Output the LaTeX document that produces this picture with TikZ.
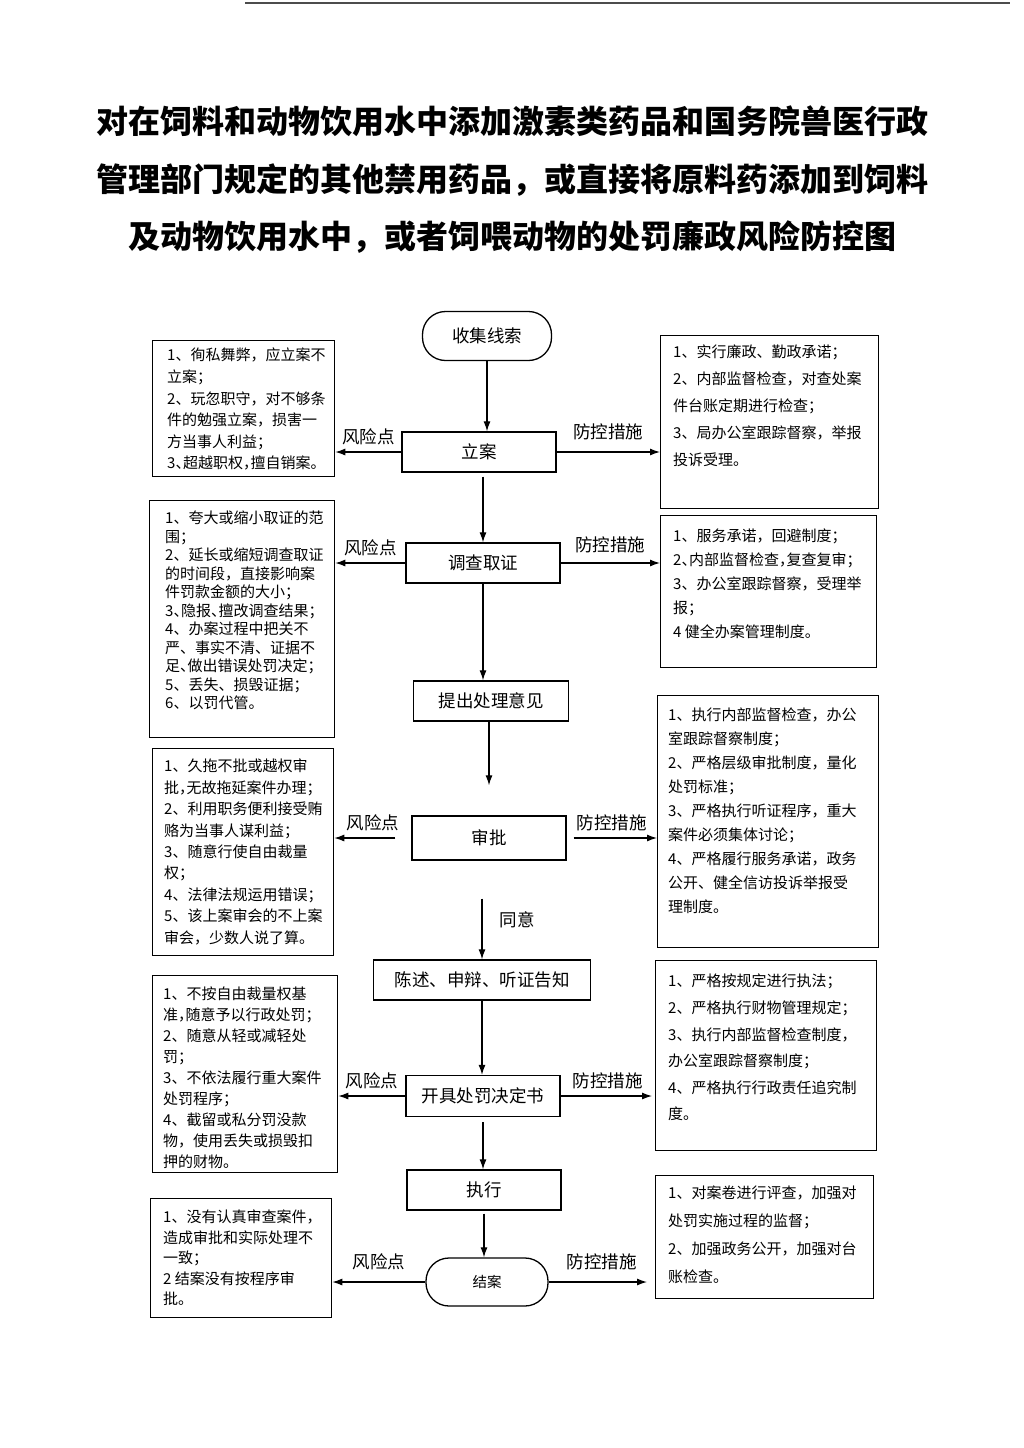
\documentclass[tikz,border=0pt]{standalone}
\usepackage{fontspec}
\setmainfont{Noto Sans CJK SC}
\usepackage{graphicx}
\usetikzlibrary{arrows.meta,positioning}
\newcommand{\halfp}[1]{\makebox[0.5em][l]{#1}}

\begin{document}
\begin{tikzpicture}[x=1pt, y=-1pt,
    procedure/.style={draw, line width=1.3pt, minimum width=154pt, minimum height=40pt, inner sep=0pt, font=\fontsize{17.5}{20}\selectfont},
    terminal/.style={procedure, rounded corners=23pt},
    sidebox/.style={draw, line width=1.3pt, anchor=north west, inner sep=0pt},
    sidetext/.style={font=\fontsize{15}{#1}\selectfont, align=left, inner sep=0pt},
    flow/.style={line width=1.2pt, -{Latex[length=10pt,width=7pt]}},
    tag/.style={font=\fontsize{17.5}{20}\selectfont, inner sep=0pt, above=6pt}]
   \useasboundingbox (0,0) rectangle (1024,1448);
   \draw[line width=1.5pt, black!70] (245,3) -- (1010,3);

   % title
   \node[font=\fontsize{32}{57.5}\selectfont\bfseries, align=center, inner sep=0pt] (heading) at (512,180)
      {对在饲料和动物饮用水中添加激素类药品和国务院兽医行政\\管理部门规定的其他禁用药品，或直接将原料药添加到饲料\\及动物饮用水中，或者饲喂动物的处罚廉政风险防控图};

   % main flow
   \node[terminal, minimum width=129pt, minimum height=49pt] (clue) at (487,336) {收集线索};
   \node[procedure] (filing) at (479,452) {立案};
   \node[procedure] (probe) at (483,563) {调查取证};
   \node[procedure, minimum width=155pt] (opinion) at (491,701) {提出处理意见};
   \node[procedure, minimum height=44pt] (approval) at (489,838) {审批};
   \node[procedure, minimum width=217pt] (notice) at (482,980) {陈述、申辩、听证告知};
   \node[procedure, minimum height=41pt] (decision) at (483,1096) {开具处罚决定书};
   \node[procedure] (execution) at (484,1190) {执行};
   \node[terminal, minimum width=122pt, minimum height=48pt, font=\fontsize{14.5}{16}\selectfont] (closing) at (487,1282) {结案};
   \node[font=\fontsize{17.5}{20}\selectfont, inner sep=0pt] (agree) at (517,920) {同意};

   % risk points
   \node[sidebox, minimum width=182pt, minimum height=136pt] (risk1) at (152,340) {};
   \node[sidetext=21.6, below right=8pt and 15pt of risk1.north west] (risk1text)
      {1、徇私舞弊，应立案不\\立案；\\2、玩忽职守，对不够条\\件的勉强立案，损害一\\方当事人利益；\\3\halfp{、}超越职权\halfp{，}擅自销案。};
   \node[sidebox, minimum width=185pt, minimum height=237pt] (risk2) at (149,500) {};
   \node[sidetext=18.5, below right=11pt and 16pt of risk2.north west] (risk2text)
      {1、夸大或缩小取证的范\\围；\\2、延长或缩短调查取证\\的时间段，直接影响案\\件罚款金额的大小；\\3\halfp{、}隐报\halfp{、}擅改调查结果；\\4、办案过程中把关不\\严、事实不清、证据不\\足\halfp{、}做出错误处罚决定；\\5、丢失、损毁证据；\\6、以罚代管。};
   \node[sidebox, minimum width=181pt, minimum height=207pt] (risk3) at (152,748) {};
   \node[sidetext=21.4, below right=11pt and 12pt of risk3.north west] (risk3text)
      {1、久拖不批或越权审\\批\halfp{，}无故拖延案件办理；\\2、利用职务便利接受贿\\赂为当事人谋利益；\\3、随意行使自由裁量\\权；\\4、法律法规运用错误；\\5、该上案审会的不上案\\审会，少数人说了算。};
   \node[sidebox, minimum width=185pt, minimum height=197pt] (risk4) at (152,975) {};
   \node[sidetext=20.9, below right=12pt and 11pt of risk4.north west] (risk4text)
      {1、不按自由裁量权基\\准\halfp{，}随意予以行政处罚；\\2、随意从轻或减轻处\\罚；\\3、不依法履行重大案件\\处罚程序；\\4、截留或私分罚没款\\物，使用丢失或损毁扣\\押的财物。};
   \node[sidebox, minimum width=181pt, minimum height=119pt] (risk5) at (150,1198) {};
   \node[sidetext=20.5, below right=12pt and 13pt of risk5.north west] (risk5text)
      {1、没有认真审查案件，\\造成审批和实际处理不\\一致；\\2 结案没有按程序审\\批。};

   % control measures
   \node[sidebox, minimum width=218pt, minimum height=173pt] (measure1) at (660,335) {};
   \node[sidetext=27, below right=10pt and 13pt of measure1.north west] (measure1text)
      {1、实行廉政、勤政承诺；\\2、内部监督检查，对查处案\\件台账定期进行检查；\\3、局办公室跟踪督察，举报\\投诉受理。};
   \node[sidebox, minimum width=216pt, minimum height=152pt] (measure2) at (660,515) {};
   \node[sidetext=24, below right=14pt and 13pt of measure2.north west] (measure2text)
      {1、服务承诺，回避制度；\\2\halfp{、}内部监督检查\halfp{，}复查复审；\\3、办公室跟踪督察，受理举\\报；\\4 健全办案管理制度。};
   \node[sidebox, minimum width=221pt, minimum height=252pt] (measure3) at (657,695) {};
   \node[sidetext=23.9, below right=13pt and 11pt of measure3.north west] (measure3text)
      {1、执行内部监督检查，办公\\室跟踪督察制度；\\2、严格层级审批制度，量化\\处罚标准；\\3、严格执行听证程序，重大\\案件必须集体讨论；\\4、严格履行服务承诺，政务\\公开、健全信访投诉举报受\\理制度。};
   \node[sidebox, minimum width=221pt, minimum height=190pt] (measure4) at (655,960) {};
   \node[sidetext=26.6, below right=14pt and 13pt of measure4.north west] (measure4text)
      {1、严格按规定进行执法；\\2、严格执行财物管理规定；\\3、执行内部监督检查制度，\\办公室跟踪督察制度；\\4、严格执行行政责任追究制\\度。};
   \node[sidebox, minimum width=218pt, minimum height=123pt] (measure5) at (655,1175) {};
   \node[sidetext=27.7, below right=11pt and 13pt of measure5.north west] (measure5text)
      {1、对案卷进行评查，加强对\\处罚实施过程的监督；\\2、加强政务公开，加强对台\\账检查。};

   % vertical flow
   \draw[flow] (clue.south) -- (clue.south |- filing.north);
   \draw[flow, shorten <=4pt] (probe.north |- filing.south) -- (probe.north);
   \draw[flow] (probe.south) -- (probe.south |- opinion.north);
   \draw[flow, shorten >=30pt] (approval.north |- opinion.south) -- (approval.north);
   \draw[flow, shorten <=38pt] (notice.north |- approval.south) -- (notice.north);
   \draw[flow] (notice.south) -- (notice.south |- decision.north);
   \draw[flow, shorten <=5pt] (decision.south) -- (decision.south |- execution.north);
   \draw[flow, shorten <=3pt] (execution.south) -- (execution.south |- closing.north);

   % side arrows
   \draw[flow] (filing.west) -- node[tag] (riskmark1) {风险点} (filing.west -| risk1.east);
   \draw[flow] (filing.east) -- node[tag, above=11pt] (guardmark1) {防控措施} (filing.east -| measure1.west);
   \draw[flow] (probe.west) -- node[tag] (riskmark2) {风险点} (probe.west -| risk2.east);
   \draw[flow] (probe.east) -- node[tag, above=9pt] (guardmark2) {防控措施} (probe.east -| measure2.west);
   \draw[flow, shorten <=16pt] (approval.west) -- node[tag] (riskmark3) {风险点} (approval.west -| risk3.east);
   \draw[flow, shorten <=7pt] (approval.east) -- node[tag] (guardmark3) {防控措施} (approval.east -| measure3.west);
   \draw[flow] (decision.west) -- node[tag] (riskmark4) {风险点} (decision.west -| risk4.east);
   \draw[flow, shorten >=3pt] (decision.east) -- node[tag] (guardmark4) {防控措施} (decision.east -| measure4.west);
   \draw[flow] (closing.west) -- node[tag, above=11pt] (riskmark5) {风险点} (closing.west -| risk5.east);
   \draw[flow, shorten >=8pt] (closing.east) -- node[tag, above=11pt] (guardmark5) {防控措施} (closing.east -| measure5.west);
\end{tikzpicture}
\end{document}
